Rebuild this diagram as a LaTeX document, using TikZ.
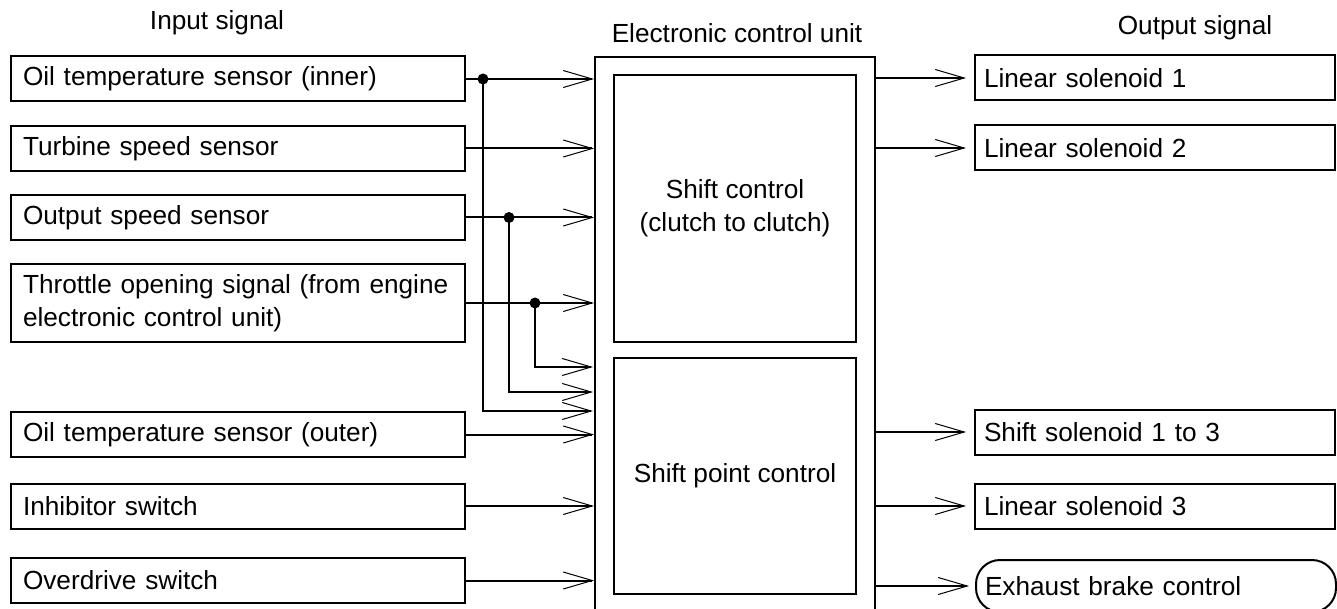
\documentclass[tikz,border=0pt]{standalone}
\usepackage{fontspec}
\setmainfont{Liberation Sans}
\usetikzlibrary{arrows.meta}
\newcommand{\diagfont}{\fontsize{13.1}{16.5}\selectfont}
\tikzset{
  box/.style={rectangle, draw=black, line width=1pt, minimum height=22.5pt, font=\diagfont, align=left},
  inbox/.style={box, text width=215pt, inner xsep=6pt},
  outbox/.style={box, text width=171pt, inner xsep=4.5pt},
  brakebox/.style={outbox, rounded corners=12pt, minimum height=26pt},
  unit/.style={rectangle, draw=black, line width=1pt, minimum width=140pt, minimum height=291.5pt},
  block/.style={rectangle, draw=black, line width=1pt, minimum width=121pt, align=center, font=\diagfont},
  heading/.style={font=\diagfont},
  sig/.style={-{Straight Barb[length=14.5pt, width=8.5pt, line width=0.5pt]}, line width=1pt},
  tap/.style={circle, fill=black, inner sep=0pt, minimum size=5.5pt}
}

\begin{document}
\begin{tikzpicture}[x=0.5pt, y=-0.5pt]
\useasboundingbox (0,0) rectangle (1337,609);

% Column titles
\node[heading] (inhead)   at (217,23)  {Input signal};
\node[heading] (unithead) at (737,33)  {Electronic control unit};
\node[heading] (outhead)  at (1195,28) {Output signal};

% --- Input ---
\node[inbox] (oilin)    at (238,79)    {Oil temperature sensor (inner)};
\node[inbox] (turbine)  at (238,148.5) {Turbine speed sensor};
\node[inbox] (outspeed) at (238,217.5) {Output speed sensor};
\node[inbox, minimum height=39pt] (throttle) at (238,303) {Throttle opening signal (from engine\\electronic control unit)};
\node[inbox] (oilout)   at (238,434.5) {Oil temperature sensor (outer)};
\node[inbox] (inhibit)  at (238,506)   {Inhibitor switch};
\node[inbox] (overdrive) at (238,580.5) {Overdrive switch};

% --- Electronic control unit ---
\node[unit] (ecu) at (735,348.5) {};
\node[block, minimum height=133.5pt] (shiftctl) at (735,208.5) {Shift control\\(clutch to clutch)};
\node[block, minimum height=118pt]   (pointctl) at (735,476)   {Shift point control};

% --- Output ---
\node[outbox]   (lin1)  at (1155,78)  {Linear solenoid 1};
\node[outbox]   (lin2)  at (1155,148) {Linear solenoid 2};
\node[outbox]   (shift) at (1155,432) {Shift solenoid 1 to 3};
\node[outbox]   (lin3)  at (1155,506) {Linear solenoid 3};
\node[brakebox] (brake) at (1156,586) {Exhaust brake control};

% Branch ends on the unit
\coordinate (end1) at (593,411);
\coordinate (end2) at (593,392);
\coordinate (end3) at (593,367);

% --- Flow ---
% Straight inputs into the unit
\foreach \src in {oilin,turbine,outspeed,throttle,oilout,inhibit,overdrive}
  \draw[sig] (\src.east) -- (\src.east -| ecu.west);
% Taps feeding the shift point control
\node[tap] (tap1) at (483,79)  {};
\node[tap] (tap2) at (509,217.5) {};
\node[tap] (tap3) at (535,303) {};
\draw[sig] (tap1.center) |- (end1);
\draw[sig] (tap2.center) |- (end2);
\draw[sig] (tap3.center) |- (end3);
% Outputs from the unit
\foreach \dst in {lin1,lin2,shift,lin3}
  \draw[sig, shorten >=4pt] (ecu.east |- \dst) -- (\dst);
\draw[sig, shorten >=3pt] (ecu.east |- brake) -- (brake);

\end{tikzpicture}
\end{document}
